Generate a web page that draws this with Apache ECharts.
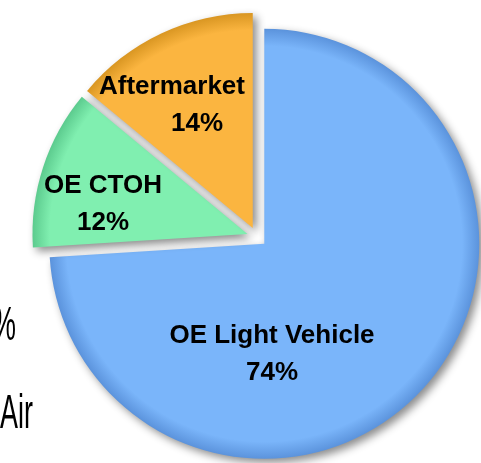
<!DOCTYPE html>
<html>
<head>
<meta charset="utf-8">
<script src="https://cdn.jsdelivr.net/npm/echarts@6/dist/echarts.min.js"></script>
<style>
	html, body { margin: 0; padding: 0; background: #fff; }
	#chart { width: 481px; height: 463px; }
</style>
</head>
<body>
<div id="chart"></div>
<script>
	// data
	let categories = ['OE Light Vehicle', 'OE CTOH', 'Aftermarket'];
	let shares = [74, 12, 14];
	// cut-off texts of the neighbouring chart on the left edge
	let sideTexts = ['%', 'Air'];

	// looks
	let sliceColors = ['#7ab5fa', '#80efb0', '#fbb540'];
	let edgeColors = ['#5b93dc', '#5ccb8e', '#d99622'];
	let labelSpots = [[272, 354], [103, 204], [172, 105]];
	let pieCenter = [257, 237];
	let pieRadius = 215;
	let explode = 10;

	let chart = echarts.init(document.getElementById('chart'));

	let total = 0;
	for (let i = 0; i < shares.length; i++) total += shares[i];

	// one series per slice, so each slice can be pulled out on its own
	let seriesList = [];
	let acc = 0;
	for (let k = 0; k < categories.length; k++) {
		let mid = (acc + shares[k] / 2) / total * Math.PI * 2;
		acc += shares[k];
		let cx = pieCenter[0] + Math.sin(mid) * explode;
		let cy = pieCenter[1] - Math.cos(mid) * explode;
		let items = [];
		for (let i = 0; i < categories.length; i++) {
			if (i != k) {
				items.push({
					name: categories[i],
					value: shares[i],
					itemStyle: { color: 'rgba(0,0,0,0)', shadowBlur: 0, shadowColor: 'rgba(0,0,0,0)' },
					label: { show: false }
				});
				continue;
			}
			items.push({
				name: categories[i],
				value: shares[i],
				itemStyle: {
					color: {
						type: 'radial',
						x: cx,
						y: cy,
						r: pieRadius,
						global: true,
						colorStops: [
							{ offset: 0, color: sliceColors[i] },
							{ offset: 0.92, color: sliceColors[i] },
							{ offset: 1, color: edgeColors[i] }
						]
					}
				}
			});
		}
		seriesList.push({
			type: 'pie',
			center: [cx, cy],
			radius: pieRadius,
			startAngle: 90,
			clockwise: true,
			silent: true,
			emphasis: { disabled: true },
			itemStyle: {
				shadowBlur: 8,
				shadowOffsetX: 4,
				shadowOffsetY: 4,
				shadowColor: 'rgba(0,0,0,0.45)'
			},
			label: {
				show: true,
				position: 'inside',
				color: '#000',
				fontFamily: 'Liberation Sans',
				formatter: function(p) {
					let tag = p.dataIndex == 2 ? 'vr' : 'v';
					return '{n|' + p.name + '}\n{' + tag + '|' + p.percent + '%}';
				},
				rich: {
					n: { fontSize: 26, fontWeight: 'bold', lineHeight: 37, color: '#000', fontFamily: 'Liberation Sans' },
					v: { fontSize: 26, fontWeight: 'bold', lineHeight: 37, color: '#000', fontFamily: 'Liberation Sans' },
					vr: { fontSize: 26, fontWeight: 'bold', lineHeight: 37, color: '#000', fontFamily: 'Liberation Sans', padding: [0, 0, 0, 50] }
				}
			},
			labelLine: { show: false },
			labelLayout: function(params) {
				let s = labelSpots[params.dataIndex];
				return { x: s[0], y: s[1], align: 'center', verticalAlign: 'middle' };
			},
			data: items
		});
	}

	let option = {
		animation: false,
		backgroundColor: '#fff',
		graphic: [{
			type: 'text',
			x: 16,
			y: 326,
			scaleX: 0.55,
			style: {
				text: sideTexts[0],
				fontFamily: 'Liberation Sans',
				fontSize: 49,
				fill: '#000',
				align: 'right',
				verticalAlign: 'middle'
			}
		}, {
			type: 'text',
			x: 0,
			y: 414,
			scaleX: 0.55,
			style: {
				text: sideTexts[1],
				fontFamily: 'Liberation Sans',
				fontSize: 49,
				fill: '#000',
				align: 'left',
				verticalAlign: 'middle'
			}
		}],
		series: seriesList
	};
	chart.setOption(option);
</script>
</body>
</html>
